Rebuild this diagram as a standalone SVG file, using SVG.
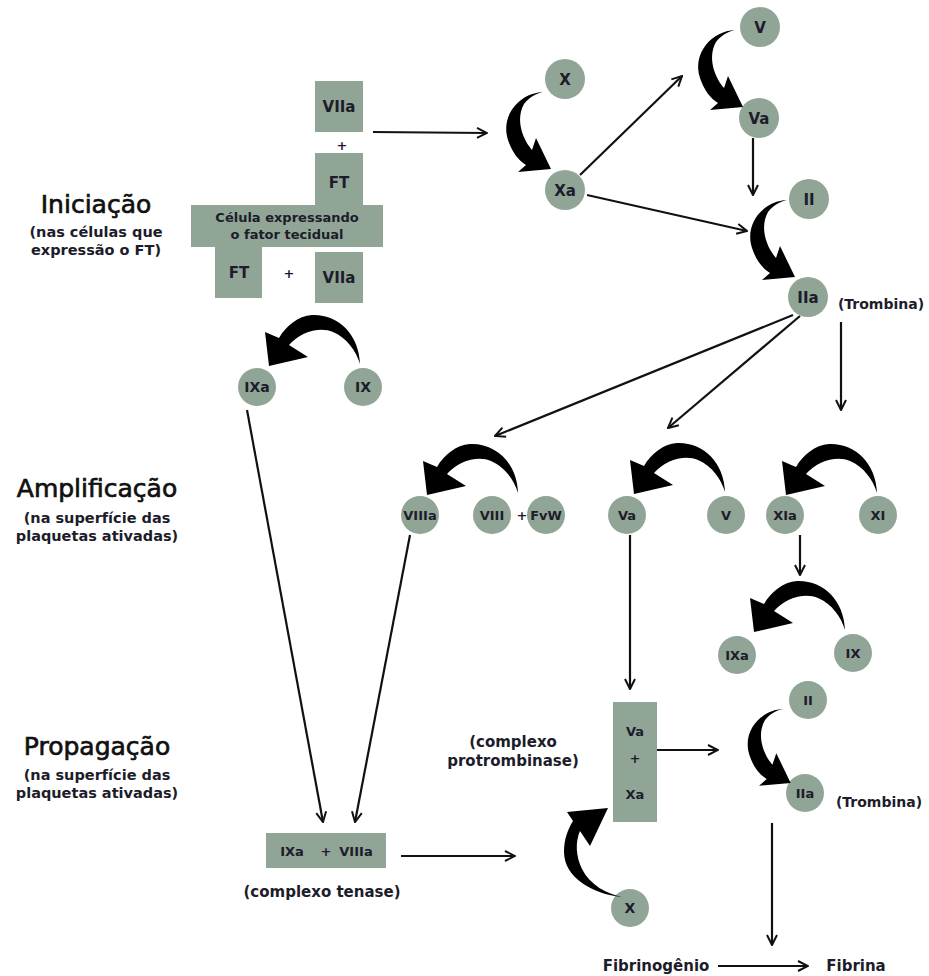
<svg xmlns="http://www.w3.org/2000/svg" xmlns:xlink="http://www.w3.org/1999/xlink" width="929" height="976" viewBox="0 0 929 976">
<style>
  .n { fill: #91a597; }
  .t { font-family: "DejaVu Sans", "Liberation Sans", sans-serif; font-weight: bold; fill: #1c1c2a; text-anchor: middle; }
  .lbl { font-size: 15px; }
  .sm { font-size: 14px; }
  .xs { font-size: 13px; }
  .title { font-family: "DejaVu Sans", "Liberation Sans", sans-serif; font-size: 25px; fill: #111; text-anchor: middle; stroke: #111; stroke-width: 0.7; }
  .sub { font-family: "DejaVu Sans", "Liberation Sans", sans-serif; font-weight: bold; font-size: 14.5px; fill: #1c1c2a; text-anchor: middle; }
  .c { fill: none; stroke: #111; stroke-width: 2.2; marker-end: url(#ah); }
  .sw { fill: #000; }
</style>
<defs>
  <marker id="ah" viewBox="0 0 12 12" markerWidth="12" markerHeight="12" markerUnits="userSpaceOnUse" refX="11" refY="6" orient="auto">
    <path d="M1,1 L11,6 L1,11" fill="none" stroke="#111" stroke-width="2"/>
  </marker>
  <path id="swA" d="M0,0 C-23,1 -43,23 -35,48 C-31,60 -25,68 -17,73 L-25,80 L8,77 L-7,46 L-11,58 C-20,48 -28,28 -19,12 C-13,4 -5,1 0,0 Z"/>
  <path id="swB" d="M0,0 C-1,-30 -22,-50 -48,-49 C-62,-48 -74,-38 -81,-26 L-95,-32 L-91,2 L-52,-7 L-71,-19 C-60,-32 -40,-38 -27,-32 C-13,-26 -4,-13 0,0 Z"/>
  <path id="swC" d="M0,0 C-30,-3 -58,-20 -58,-45 C-58,-58 -54,-68 -49,-76 L-55,-85 L-14,-89 L-32,-51 L-42,-66 C-47,-55 -46,-40 -40,-28 C-32,-12 -15,-3 0,0 Z"/>
</defs>
<rect width="929" height="976" fill="#fff"/>

<!-- phase labels -->
<g id="lbl-iniciacao">
  <text class="title" x="96" y="213">Iniciação</text>
  <text class="sub" x="96" y="237">(nas células que</text>
  <text class="sub" x="96" y="255">expressão o FT)</text>
</g>
<g id="lbl-amplificacao">
  <text class="title" x="97" y="497">Amplificação</text>
  <text class="sub" x="97" y="523">(na superfície das</text>
  <text class="sub" x="97" y="541">plaquetas ativadas)</text>
</g>
<g id="lbl-propagacao">
  <text class="title" x="97" y="755">Propagação</text>
  <text class="sub" x="97" y="780">(na superfície das</text>
  <text class="sub" x="97" y="798">plaquetas ativadas)</text>
</g>

<!-- initiation cell -->
<g id="cell">
  <rect class="n" x="315" y="81" width="48" height="51"/>
  <text class="t lbl" x="339" y="112">VIIa</text>
  <text class="t xs" x="342" y="150">+</text>
  <rect class="n" x="315" y="153" width="48" height="53"/>
  <text class="t lbl" x="339" y="188">FT</text>
  <rect class="n" x="191" y="205" width="192" height="42"/>
  <text class="t xs" x="287" y="222">Célula expressando</text>
  <text class="t xs" x="287" y="239">o fator tecidual</text>
  <rect class="n" x="215" y="246" width="47" height="52"/>
  <text class="t lbl" x="239" y="278">FT</text>
  <text class="t xs" x="289" y="278">+</text>
  <rect class="n" x="315" y="252" width="48" height="51"/>
  <text class="t lbl" x="339" y="283">VIIa</text>
</g>

<!-- top nodes -->
<g id="n-X"><circle class="n" cx="565" cy="79" r="20"/><text class="t lbl" x="565" y="84.5">X</text></g>
<g id="n-Xa"><circle class="n" cx="565" cy="190" r="20"/><text class="t lbl" x="565" y="195.5">Xa</text></g>
<g id="n-V"><circle class="n" cx="760" cy="27" r="20"/><text class="t lbl" x="760" y="32.5">V</text></g>
<g id="n-Va"><circle class="n" cx="759" cy="118" r="20"/><text class="t lbl" x="759" y="123.5">Va</text></g>
<g id="n-II"><circle class="n" cx="809" cy="199" r="20"/><text class="t lbl" x="809" y="204.5">II</text></g>
<g id="n-IIa"><circle class="n" cx="808" cy="297" r="20"/><text class="t lbl" x="808" y="302.5">IIa</text><text class="t sm" x="881" y="309">(Trombina)</text></g>

<!-- IXa / IX upper -->
<g id="n-IXa1"><circle class="n" cx="257" cy="387" r="19"/><text class="t sm" x="257" y="392">IXa</text></g>
<g id="n-IX1"><circle class="n" cx="363" cy="387" r="19"/><text class="t sm" x="363" y="392">IX</text></g>

<!-- amplification row -->
<g id="n-VIIIa"><circle class="n" cx="420" cy="515" r="19"/><text class="t xs" x="420" y="520">VIIIa</text></g>
<g id="n-VIII"><circle class="n" cx="492" cy="515" r="19"/><text class="t xs" x="492" y="520">VIII</text></g>
<g id="n-FvW"><text class="t xs" x="522" y="520">+</text><circle class="n" cx="546" cy="515" r="19"/><text class="t xs" x="546" y="520">FvW</text></g>
<g id="n-Va2"><circle class="n" cx="627" cy="515" r="19"/><text class="t xs" x="627" y="520">Va</text></g>
<g id="n-V2"><circle class="n" cx="726" cy="515" r="19"/><text class="t xs" x="726" y="520">V</text></g>
<g id="n-XIa"><circle class="n" cx="785" cy="515" r="19"/><text class="t xs" x="785" y="520">XIa</text></g>
<g id="n-XI"><circle class="n" cx="878" cy="515" r="19"/><text class="t xs" x="878" y="520">XI</text></g>
<g id="n-IXa2"><circle class="n" cx="737" cy="655" r="19"/><text class="t xs" x="737" y="660">IXa</text></g>
<g id="n-IX2"><circle class="n" cx="853" cy="653" r="19"/><text class="t xs" x="853" y="658">IX</text></g>

<!-- propagation -->
<g id="n-prothrombinase">
  <rect class="n" x="613" y="702" width="44" height="120"/>
  <text class="t xs" x="635" y="736">Va</text>
  <text class="t xs" x="635" y="763">+</text>
  <text class="t xs" x="635" y="799">Xa</text>
  <text class="t lbl" x="513" y="747">(complexo</text>
  <text class="t lbl" x="513" y="766">protrombinase)</text>
</g>
<g id="n-II2"><circle class="n" cx="808" cy="700" r="19"/><text class="t xs" x="808" y="705">II</text></g>
<g id="n-IIa2"><circle class="n" cx="805" cy="793" r="19"/><text class="t xs" x="805" y="798">IIa</text><text class="t sm" x="879" y="807">(Trombina)</text></g>
<g id="n-tenase">
  <rect class="n" x="266" y="833" width="120" height="35"/>
  <text class="t xs" x="292" y="856">IXa</text>
  <text class="t xs" x="326" y="856">+</text>
  <text class="t xs" x="356" y="856">VIIIa</text>
  <text class="t lbl" x="322" y="897">(complexo tenase)</text>
</g>
<g id="n-X2"><circle class="n" cx="630" cy="908" r="19"/><text class="t sm" x="630" y="913">X</text></g>
<g id="n-fibrinogenio"><text class="t lbl" x="656" y="971">Fibrinogênio</text></g>
<g id="n-fibrina"><text class="t lbl" x="856" y="971">Fibrina</text></g>

<!-- connectors -->
<g id="connectors">
  <line class="c" x1="373" y1="132" x2="487" y2="133"/>
  <line class="c" x1="580" y1="175" x2="682" y2="76"/>
  <line class="c" x1="587" y1="195" x2="747" y2="231"/>
  <line class="c" x1="753" y1="138" x2="753" y2="195"/>
  <line class="c" x1="793" y1="315" x2="495" y2="436"/>
  <line class="c" x1="800" y1="316" x2="668" y2="428"/>
  <line class="c" x1="841" y1="322" x2="841" y2="410"/>
  <line class="c" x1="800" y1="535" x2="800" y2="575"/>
  <line class="c" x1="247" y1="410" x2="323" y2="822"/>
  <line class="c" x1="410" y1="535" x2="355" y2="822"/>
  <line class="c" x1="630" y1="535" x2="630" y2="689"/>
  <line class="c" x1="657" y1="750" x2="718" y2="750"/>
  <line class="c" x1="772" y1="823" x2="772" y2="945"/>
  <line class="c" x1="401" y1="856" x2="515" y2="856"/>
  <line class="c" x1="718" y1="966" x2="808" y2="966"/>

  <use class="sw" xlink:href="#swA" href="#swA" transform="translate(543,92)"/>
  <use class="sw" xlink:href="#swA" href="#swA" transform="translate(735,30)"/>
  <use class="sw" xlink:href="#swA" href="#swA" transform="translate(787,200)"/>
  <use class="sw" xlink:href="#swA" href="#swA" transform="translate(783,709) scale(0.96)"/>

  <use class="sw" xlink:href="#swB" href="#swB" transform="translate(360,364)"/>
  <use class="sw" xlink:href="#swB" href="#swB" transform="translate(518,493)"/>
  <use class="sw" xlink:href="#swB" href="#swB" transform="translate(725,492)"/>
  <use class="sw" xlink:href="#swB" href="#swB" transform="translate(877,493)"/>
  <use class="sw" xlink:href="#swB" href="#swB" transform="translate(845,630)"/>

  <use class="sw" xlink:href="#swC" href="#swC" transform="translate(622,897)"/>
</g>
</svg>
